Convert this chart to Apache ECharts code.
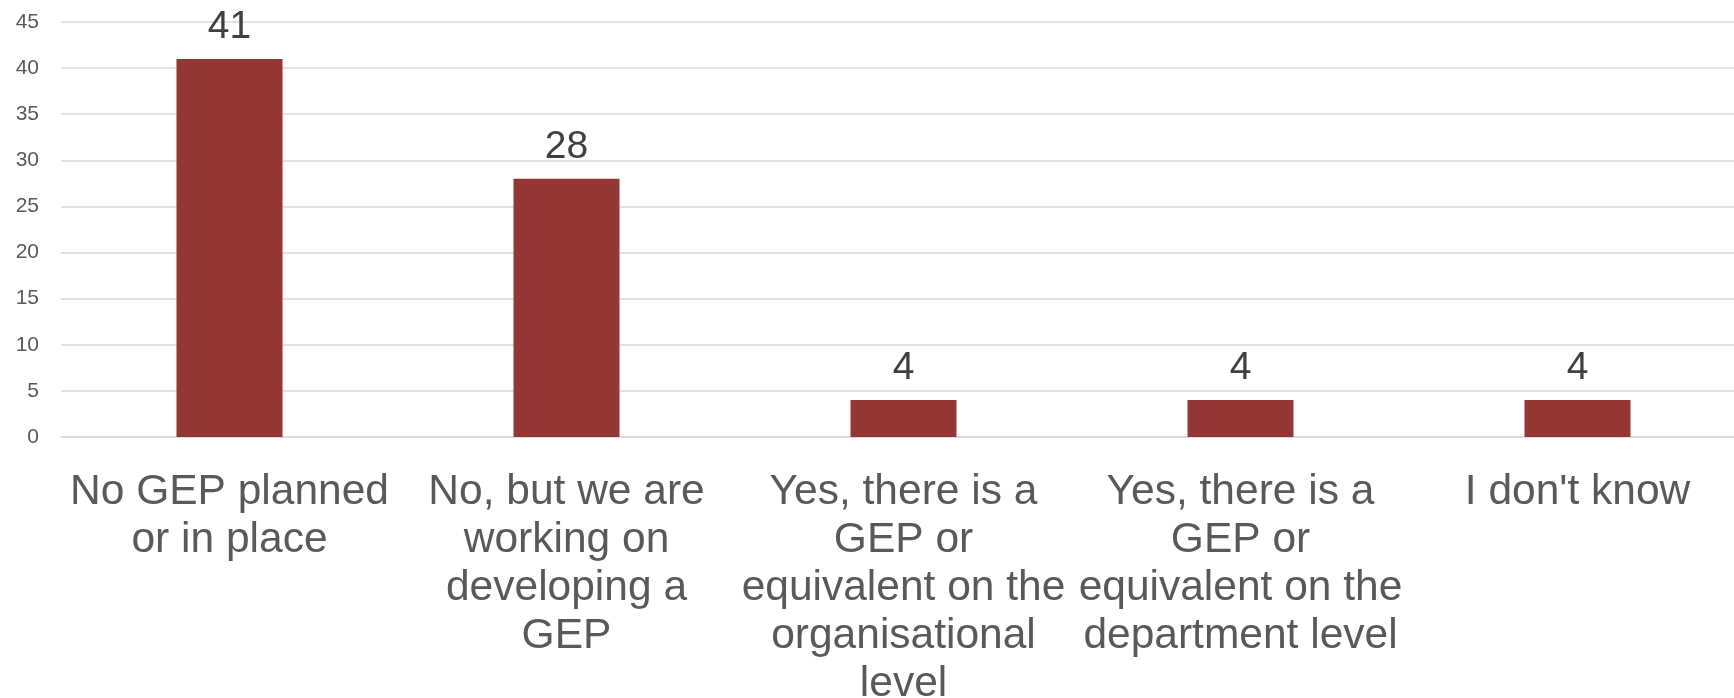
<!DOCTYPE html>
<html>
<head>
<meta charset="utf-8">
<script src="https://cdn.jsdelivr.net/npm/echarts@6/dist/echarts.min.js"></script>
<style>
  html, body { margin: 0; padding: 0; background: #ffffff; }
  #chart { width: 1734px; height: 698px; }
</style>
</head>
<body>
<div id="chart"></div>
<script>
// Survey answers about Gender Equality Plans (GEP)
const categories = [
  "No GEP planned\nor in place",
  "No, but we are\nworking on\ndeveloping a\nGEP",
  "Yes, there is a\nGEP or\nequivalent on the\norganisational\nlevel",
  "Yes, there is a\nGEP or\nequivalent on the\ndepartment level",
  "I don't know"
];
const counts = [41, 28, 4, 4, 4];
const yTicks = { min: 0, max: 45, step: 5 };

const FONT = '"Liberation Sans", Arial, sans-serif';

const chart = echarts.init(document.getElementById('chart'), null, { renderer: 'canvas' });
chart.setOption({
  animation: false,
  backgroundColor: '#ffffff',
  grid: {
    left: 61, top: 22, width: 1685, height: 415,
    outerBoundsMode: 'none',
    containLabel: false
  },
  xAxis: {
    type: 'category',
    data: categories,
    axisTick: { show: false },
    axisLine: { show: true, lineStyle: { color: '#d9d9d9', width: 1.5 } },
    axisLabel: {
      interval: 0,
      margin: 31,
      color: '#595959',
      fontFamily: FONT,
      fontSize: 42.5,
      lineHeight: 48,
      align: 'center',
      hideOverlap: false
    }
  },
  yAxis: {
    type: 'value',
    min: yTicks.min,
    max: yTicks.max,
    interval: yTicks.step,
    axisLine: { show: false },
    axisTick: { show: false },
    splitLine: { lineStyle: { color: '#d9d9d9', width: 1.5 } },
    axisLabel: {
      margin: 22,
      color: '#595959',
      fontFamily: FONT,
      fontSize: 21
    }
  },
  series: [{
    type: 'bar',
    data: counts,
    barWidth: 106,
    itemStyle: { color: '#943634' },
    label: {
      show: true,
      position: 'top',
      distance: 12,
      color: '#404040',
      fontFamily: FONT,
      fontSize: 39
    }
  }]
});
</script>
</body>
</html>
